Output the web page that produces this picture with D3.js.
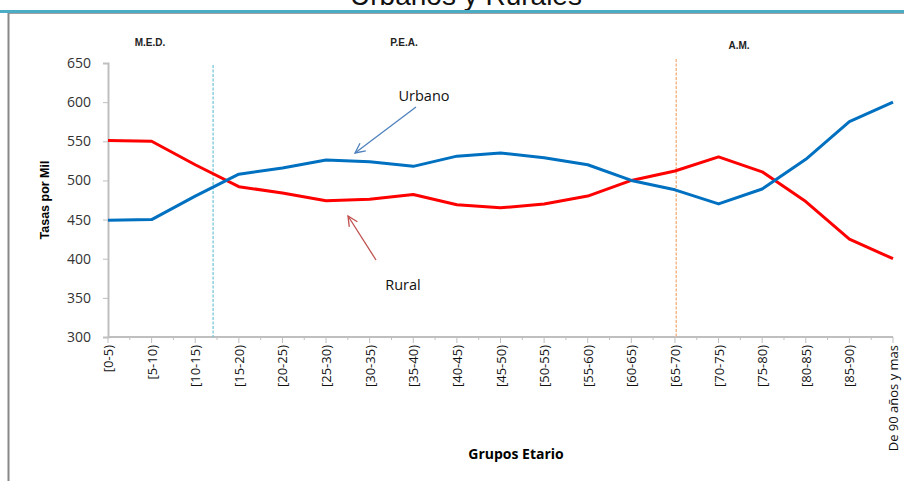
<!DOCTYPE html>
<html>
<head>
<meta charset="utf-8">
<script src="https://cdn.jsdelivr.net/npm/d3@7"></script>
<style>
  body { margin: 0; background: #fff; }
  svg { display: block; }
</style>
</head>
<body>
<div id="chart"></div>
<script>
// size of the page
var width = 904;
var height = 481;

// data
var grupos = ["[0-5)", "[5-10)", "[10-15)", "[15-20)", "[20-25)", "[25-30)", "[30-35)",
  "[35-40)", "[40-45)", "[45-50)", "[50-55)", "[55-60)", "[60-65)", "[65-70)",
  "[70-75)", "[75-80)", "[80-85)", "[85-90)", "De 90 años y mas"];
var urbano = [449, 450, 480, 508, 516, 526, 524, 518, 531, 535, 529, 520, 500, 488, 470, 489, 527, 575, 600];
var rural = [551, 550, 520, 492, 484, 474, 476, 482, 469, 465, 470, 480, 500, 512, 530, 511, 473, 425, 400];
var yTicks = [300, 350, 400, 450, 500, 550, 600, 650];
var etapas = ["M.E.D.", "P.E.A.", "A.M."];

var margin = {top: 63, left: 108, right: 11, bottom: 144};

var x = d3.scalePoint()
  .domain(grupos)
  .range([margin.left, width - margin.right]);

var y = d3.scaleLinear()
  .domain([300, 650])
  .range([height - margin.bottom, margin.top]);

// x position for fractional category index (used for the dashed dividers)
var xi = function(i) { return margin.left + i * x.step(); };

var svg = d3.select("#chart")
  .append("svg")
  .attr("width", width)
  .attr("height", height)
  .style("font-family", "'Open Sans', 'DejaVu Sans', sans-serif");

// title cut off at the top (as in the original), with the teal rule and grey frame
svg.append("text")
  .attr("x", 466)
  .attr("y", 5)
  .attr("text-anchor", "middle")
  .style("font-family", "'Liberation Sans', Arial, sans-serif")
  .style("font-size", "28px")
  .style("fill", "#111")
  .text("Urbanos y Rurales");

svg.append("line")
  .attr("x1", 0).attr("x2", width)
  .attr("y1", 11.5).attr("y2", 11.5)
  .style("stroke", "#4bacc6")
  .style("stroke-width", 3);

svg.append("line")
  .attr("x1", 8).attr("x2", width)
  .attr("y1", 13.5).attr("y2", 13.5)
  .style("stroke", "#a0a0a0")
  .style("stroke-width", 1);

svg.append("line")
  .attr("x1", 8.5).attr("x2", 8.5)
  .attr("y1", 13).attr("y2", height)
  .style("stroke", "#888")
  .style("stroke-width", 2);

// y axis
var yAxis = svg.append("g")
  .attr("transform", "translate(" + margin.left + ",0)")
  .call(d3.axisLeft(y).tickValues(yTicks).tickSize(5).tickPadding(12));
yAxis.select(".domain").style("stroke", "#bfbfbf").style("stroke-width", 2);
yAxis.selectAll(".tick line").style("stroke", "#bfbfbf");
yAxis.selectAll(".tick text")
  .style("font-family", "'Open Sans', 'DejaVu Sans', sans-serif")
  .style("font-size", "14px")
  .style("fill", "#333");

// x axis with minor ticks between the groups
var x0 = y(300);
svg.append("line")
  .attr("x1", margin.left).attr("x2", width - margin.right)
  .attr("y1", x0).attr("y2", x0)
  .style("stroke", "#bfbfbf")
  .style("stroke-width", 2);

svg.selectAll(".xmajor")
  .data(grupos)
  .enter()
  .append("line")
  .attr("class", "xmajor")
  .attr("x1", function(d) { return x(d); })
  .attr("x2", function(d) { return x(d); })
  .attr("y1", x0).attr("y2", x0 + 6)
  .style("stroke", "#bfbfbf");

svg.selectAll(".xminor")
  .data(grupos.slice(1))
  .enter()
  .append("line")
  .attr("class", "xminor")
  .attr("x1", function(d) { return x(d) - x.step() / 2; })
  .attr("x2", function(d) { return x(d) - x.step() / 2; })
  .attr("y1", x0).attr("y2", x0 + 3)
  .style("stroke", "#bfbfbf");

svg.selectAll(".xlabel")
  .data(grupos)
  .enter()
  .append("text")
  .attr("class", "xlabel")
  .attr("transform", function(d) { return "translate(" + (x(d) + 5) + "," + (x0 + 8) + ") rotate(-90)"; })
  .attr("text-anchor", "end")
  .style("font-family", "'Open Sans', 'DejaVu Sans', sans-serif")
  .style("font-size", "13px")
  .style("fill", "#111")
  .text(function(d) { return d; });

// axis titles
svg.append("text")
  .attr("transform", "translate(49,200) rotate(-90)")
  .attr("text-anchor", "middle")
  .style("font-family", "'Liberation Sans', Arial, sans-serif")
  .style("font-size", "12.5px")
  .style("font-weight", "bold")
  .text("Tasas por Mil");

svg.append("text")
  .attr("x", 516)
  .attr("y", 459)
  .attr("text-anchor", "middle")
  .style("font-size", "14px")
  .style("font-weight", "bold")
  .text("Grupos Etario");

// stage labels
var etapaX = [150, 404, 739];
var etapaY = [46, 46, 49];
svg.selectAll(".etapa")
  .data(etapas)
  .enter()
  .append("text")
  .attr("class", "etapa")
  .attr("x", function(d, i) { return etapaX[i]; })
  .attr("y", function(d, i) { return etapaY[i]; })
  .attr("text-anchor", "middle")
  .style("font-family", "'Liberation Sans', Arial, sans-serif")
  .style("font-size", "10px")
  .style("font-weight", "bold")
  .style("fill", "#222")
  .text(function(d) { return d; });

// dashed dividers
svg.append("line")
  .attr("x1", xi(2.41)).attr("x2", xi(2.41))
  .attr("y1", 65).attr("y2", x0)
  .style("stroke", "#6fc3d8")
  .style("stroke-width", 1.2)
  .style("stroke-dasharray", "3,1.5");

svg.append("line")
  .attr("x1", xi(13.03)).attr("x2", xi(13.03))
  .attr("y1", 59).attr("y2", x0)
  .style("stroke", "#f5b88a")
  .style("stroke-width", 1.5)
  .style("stroke-dasharray", "3,1.5");

// lines
var line = d3.line()
  .x(function(d, i) { return x(grupos[i]); })
  .y(function(d) { return y(d); });

svg.append("path")
  .datum(rural)
  .attr("d", line)
  .style("fill", "none")
  .style("stroke", "#ff0000")
  .style("stroke-width", 3)
  .style("stroke-linejoin", "round");

svg.append("path")
  .datum(urbano)
  .attr("d", line)
  .style("fill", "none")
  .style("stroke", "#0070c0")
  .style("stroke-width", 3)
  .style("stroke-linejoin", "round");

// annotations with open arrows
var arrow = function(x1, y1, x2, y2, color) {
  var a = Math.atan2(y2 - y1, x2 - x1);
  var len = 11, spread = 0.45;
  svg.append("line")
    .attr("x1", x1).attr("y1", y1)
    .attr("x2", x2).attr("y2", y2)
    .style("stroke", color)
    .style("stroke-width", 1.3);
  svg.append("path")
    .attr("d", "M" + (x2 - len * Math.cos(a - spread)) + "," + (y2 - len * Math.sin(a - spread)) +
      "L" + x2 + "," + y2 +
      "L" + (x2 - len * Math.cos(a + spread)) + "," + (y2 - len * Math.sin(a + spread)))
    .style("fill", "none")
    .style("stroke", color)
    .style("stroke-width", 1.3);
};

svg.append("text")
  .attr("x", 424)
  .attr("y", 101)
  .attr("text-anchor", "middle")
  .style("font-size", "14.5px")
  .style("fill", "#111")
  .text("Urbano");
arrow(416, 107, 355, 153, "#4f81bd");

svg.append("text")
  .attr("x", 403)
  .attr("y", 290)
  .attr("text-anchor", "middle")
  .style("font-size", "14.5px")
  .style("fill", "#111")
  .text("Rural");
arrow(376, 260, 348, 216, "#c0504d");
</script>
</body>
</html>
